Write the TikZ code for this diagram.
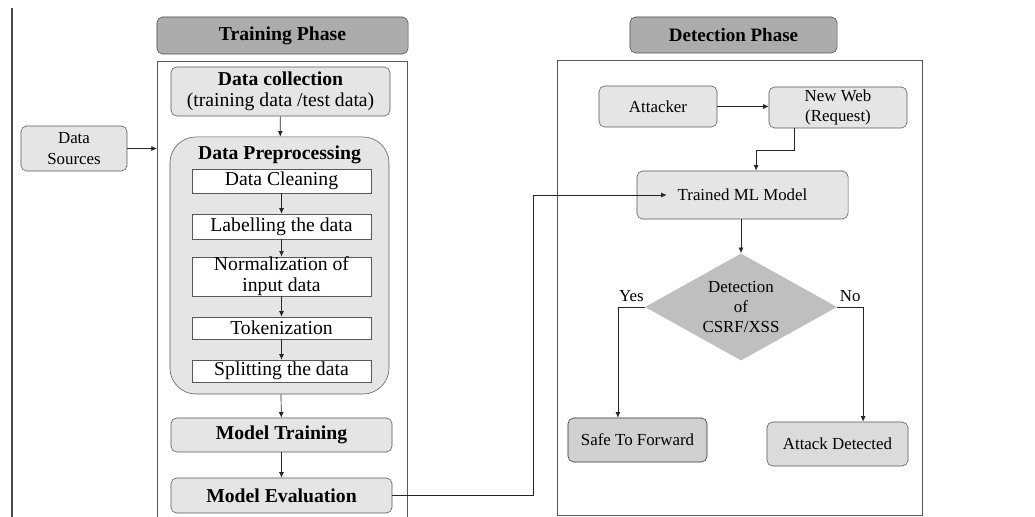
\documentclass[tikz,border=0pt]{standalone}
\usepackage{fontspec}
\setmainfont{Liberation Serif}
\usetikzlibrary{shapes, arrows.meta, positioning}

\begin{document}
\begin{tikzpicture}[x=0.025cm, y=-0.025cm,
    phase_hdr/.style={rectangle, rounded corners=4pt, draw=gray!60!black, fill=gray!65, inner sep=1pt, font=\bfseries\fontsize{14}{16}\selectfont},
    train_box/.style={rectangle, rounded corners=4pt, draw=gray!70!black, fill=gray!20, align=center, inner sep=1pt, font=\fontsize{14}{15}\selectfont},
    step_box/.style={rectangle, draw=gray!70!black, fill=white, align=center, inner sep=1pt, minimum width=4.475cm, font=\fontsize{14}{15}\selectfont},
    det_box/.style={rectangle, rounded corners=4pt, draw=gray!70!black, fill=gray!20, align=center, inner sep=1pt, font=\fontsize{12}{14}\selectfont},
    frame/.style={draw=gray!70!black, line width=0.6pt},
    arr/.style={-{Latex[length=4pt,width=3.5pt]}, draw=black!85, line width=0.5pt},
    ]
    \useasboundingbox (0,0) rectangle (1035,517);
    \draw[gray!60!black, line width=1pt] (12,8) -- (12,517);

    % Frames
    \draw[frame] (157,517) -- (157,61) -- (407,61) -- (407,517);
    \draw[frame] (557,60) rectangle (922,515);

    % Nodes
    \node[phase_hdr, minimum width=6.275cm, minimum height=0.925cm] (hdrT) at (282.5,35.5) {Training Phase};
    \node[phase_hdr, minimum width=5.175cm, minimum height=0.9cm, font=\bfseries\fontsize{13.5}{15}\selectfont] (hdrD) at (733.5,35) {Detection Phase};

    \node[train_box, minimum width=2.65cm, minimum height=1.125cm, font=\fontsize{12}{15}\selectfont] (src) at (74,148.5) {Data\\Sources};
    \node[train_box, minimum width=5.475cm, minimum height=1.225cm] (dcol) at (280.5,91.5) {\textbf{Data collection}\\(training data /test data)};
    \node[train_box, rounded corners=0.65cm, minimum width=5.475cm, minimum height=6.425cm] (prep) at (279.5,265.5) {};
    \node[font=\bfseries\fontsize{14}{16}\selectfont, inner sep=0pt] (ptitle) at (279.5,155) {Data Preprocessing};
    \node[step_box, minimum height=0.6cm] (clean) at (281.5,181) {Data Cleaning};
    \node[step_box, minimum height=0.625cm] (label) at (281.5,226.5) {Labelling the data};
    \node[step_box, minimum height=0.925cm, inner ysep=0pt] (norm) at (281.5,276.5) {Normalization of\\input data};
    \node[step_box, minimum height=0.55cm] (token) at (281.5,328) {Tokenization};
    \node[step_box, minimum height=0.55cm] (split) at (281.5,371) {Splitting the data};
    \node[train_box, minimum width=5.525cm, minimum height=0.85cm, font=\bfseries\fontsize{14}{16}\selectfont] (train) at (281.5,435) {Model Training};
    \node[train_box, minimum width=5.525cm, minimum height=0.875cm, font=\bfseries\fontsize{14}{16}\selectfont] (evalm) at (281.5,495.5) {Model Evaluation};
    \coordinate (tin) at (157,148.5);

    \node[det_box, minimum width=2.95cm, minimum height=1.025cm] (atk) at (658,106.5) {Attacker};
    \node[det_box, minimum width=3.45cm, minimum height=1.025cm] (web) at (838,107.5) {New Web\\(Request)};
    \node[det_box, minimum width=5.275cm, minimum height=1.2cm] (ml) at (742.5,195) {Trained ML Model};
    \node[diamond, fill=gray!50, inner sep=0pt, aspect=1.8, minimum width=4.8cm, minimum height=2.675cm, align=center, font=\fontsize{12}{14.5}\selectfont] (dia) at (741,307) {Detection\\of\\CSRF/XSS};
    \node[det_box, fill=gray!36, draw=black!80, minimum width=3.475cm, minimum height=1.1cm] (safe) at (637.5,440) {Safe To Forward};
    \node[det_box, fill=gray!28, minimum width=3.525cm, minimum height=1.1cm] (attack) at (837.5,444) {Attack Detected};

    % Arrows
    \draw[arr] (src.east) -- (tin);
    \draw[arr] (dcol) -- (prep);
    \draw[arr] (clean) -- (label); \draw[arr] (label) -- (norm);
    \draw[arr] (norm) -- (token); \draw[arr] (token) -- (split);
    \draw[arr] (prep) -- (train);
    \draw[arr] (train) -- (evalm);
    \draw[arr] (evalm.east) -- ++(141,0) |- ([xshift=0.75cm]ml.west);
    \draw[arr] (atk.east) -- (atk.east -| web.west);
    \draw[arr] ([xshift=-1.1cm]web.south) -- ++(0,22) -| ([xshift=0.34cm]ml.north);
    \draw[arr] (ml.south -| dia.north) -- (dia.north);
    \draw[arr] (dia.west) -| node[pos=0.25, above, font=\fontsize{12}{14}\selectfont] {Yes} ([xshift=-0.49cm]safe.north);
    \draw[arr] (dia.east) -| node[pos=0.25, above, font=\fontsize{12}{14}\selectfont] {No} ([xshift=0.64cm]attack.north);
\end{tikzpicture}
\end{document}
